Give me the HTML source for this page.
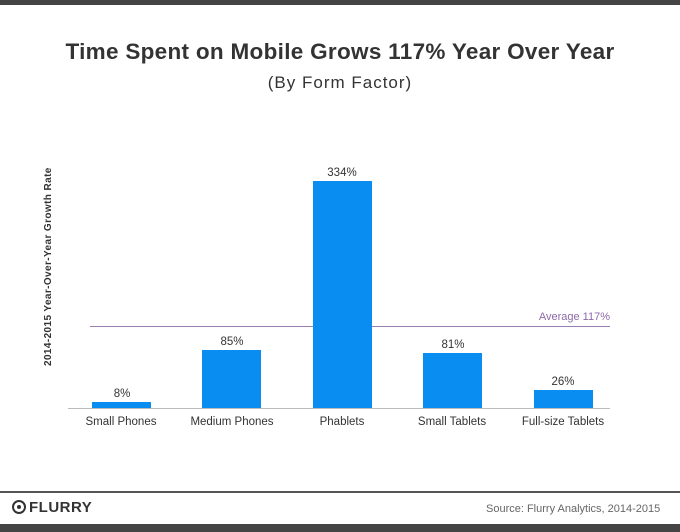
<!DOCTYPE html>
<html><head><style>
body{margin:0;width:680px;height:532px;background:#fff;position:relative;overflow:hidden;font-family:"Liberation Sans",sans-serif;}
.a{position:absolute;}
.bar{position:absolute;background:#0a8df0;width:59px;}
.v{position:absolute;width:80px;text-align:center;font-size:11.5px;color:#333;}
.l{position:absolute;width:120px;text-align:center;font-size:11.5px;color:#333;top:416px;}
</style></head><body>
<div class="a" style="left:0;top:0;width:680px;height:5px;background:#444"></div>
<div class="a" style="left:0;top:39px;width:680px;text-align:center;font-size:22.5px;font-weight:bold;color:#333;letter-spacing:0.3px">Time Spent on Mobile Grows 117% Year Over Year</div>
<div class="a" style="left:0;top:73px;width:680px;text-align:center;font-size:17px;color:#333;letter-spacing:1px">(By Form Factor)</div>
<div class="a" style="left:43px;top:366px;width:0;height:0"><div style="position:absolute;transform:rotate(-90deg);transform-origin:0 0;left:0;top:0;width:202px;font-size:10px;font-weight:bold;color:#333;white-space:nowrap;letter-spacing:0.4px">2014-2015 Year-Over-Year Growth Rate</div></div>
<div class="a" style="left:90px;top:326px;width:520px;height:1px;background:#9a7fb0"></div>
<div class="a" style="left:500px;top:311px;width:110px;text-align:right;font-size:11px;color:#8e6aa8">Average 117%</div>
<div class="a" style="left:68px;top:408px;width:542px;height:1px;background:#bbb"></div>
<div class="bar" style="left:92px;top:402px;height:6px"></div>
<div class="bar" style="left:202px;top:350px;height:58px"></div>
<div class="bar" style="left:313px;top:181px;height:227px"></div>
<div class="bar" style="left:423px;top:353px;height:55px"></div>
<div class="bar" style="left:534px;top:390px;height:18px"></div>
<div class="v" style="left:82px;top:388px">8%</div>
<div class="v" style="left:192px;top:336px">85%</div>
<div class="v" style="left:302px;top:167px">334%</div>
<div class="v" style="left:413px;top:339px">81%</div>
<div class="v" style="left:523px;top:376px">26%</div>
<div class="l" style="left:61px">Small Phones</div>
<div class="l" style="left:172px">Medium Phones</div>
<div class="l" style="left:282px">Phablets</div>
<div class="l" style="left:392px">Small Tablets</div>
<div class="l" style="left:503px">Full-size Tablets</div>
<div class="a" style="left:0;top:491px;width:680px;height:2px;background:#555"></div>
<div class="a" style="left:12px;top:500px;width:14px;height:14px;border-radius:50%;border:2px solid #333;box-sizing:border-box"><div style="margin:3px;width:4px;height:4px;border-radius:50%;background:#333"></div></div>
<div class="a" style="left:29px;top:499px;font-size:15px;font-weight:bold;color:#333;letter-spacing:0.5px">FLURRY</div>
<div class="a" style="left:486px;top:503px;font-size:11px;color:#666">Source: Flurry Analytics, 2014-2015</div>
<div class="a" style="left:0;top:524px;width:680px;height:8px;background:#444"></div>
</body></html>
